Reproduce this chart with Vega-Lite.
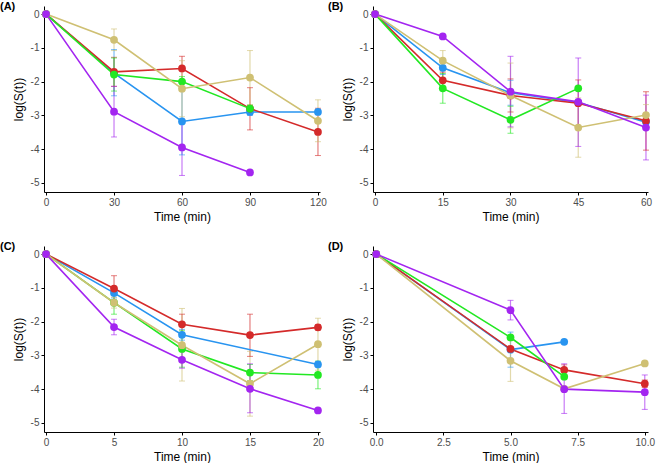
{
  "$schema": "https://vega.github.io/schema/vega-lite/v6.json",
  "padding": {"left": 0, "top": 1, "right": 5, "bottom": 1},
  "bounds": "flush",
  "columns": 2,
  "spacing": {"row": 54, "column": 53},
  "datasets": {
    "d": [
      {"p":"A","g":"S2","t":0,"v":0},
      {"p":"A","g":"S2","t":30,"v":-1.75,"lo":-2.42,"hi":-1.05},
      {"p":"A","g":"S2","t":60,"v":-3.18,"lo":-4.17,"hi":-2.19},
      {"p":"A","g":"S2","t":90,"v":-2.9,"lo":-3.0,"hi":-2.8},
      {"p":"A","g":"S2","t":120,"v":-2.9},
      {"p":"A","g":"S1","t":0,"v":0},
      {"p":"A","g":"S1","t":30,"v":-1.71,"lo":-2.14,"hi":-1.28},
      {"p":"A","g":"S1","t":60,"v":-1.61,"lo":-1.97,"hi":-1.25},
      {"p":"A","g":"S1","t":90,"v":-2.8,"lo":-3.43,"hi":-2.18},
      {"p":"A","g":"S1","t":120,"v":-3.49,"lo":-4.19,"hi":-2.79},
      {"p":"A","g":"S3","t":0,"v":0},
      {"p":"A","g":"S3","t":30,"v":-1.79,"lo":-2.28,"hi":-1.3},
      {"p":"A","g":"S3","t":60,"v":-2.0,"lo":-2.15,"hi":-1.85},
      {"p":"A","g":"S3","t":90,"v":-2.8,"lo":-2.9,"hi":-2.7},
      {"p":"A","g":"S4","t":0,"v":0},
      {"p":"A","g":"S4","t":30,"v":-0.76,"lo":-1.08,"hi":-0.44},
      {"p":"A","g":"S4","t":60,"v":-2.21,"lo":-3.04,"hi":-1.38},
      {"p":"A","g":"S4","t":90,"v":-1.88,"lo":-2.68,"hi":-1.08},
      {"p":"A","g":"S4","t":120,"v":-3.16,"lo":-3.78,"hi":-2.54},
      {"p":"A","g":"S5","t":0,"v":0},
      {"p":"A","g":"S5","t":30,"v":-2.89,"lo":-3.64,"hi":-2.14},
      {"p":"A","g":"S5","t":60,"v":-3.95,"lo":-4.78,"hi":-3.12},
      {"p":"A","g":"S5","t":90,"v":-4.69},

      {"p":"B","g":"S2","t":0,"v":0},
      {"p":"B","g":"S2","t":15,"v":-1.59,"lo":-1.79,"hi":-1.39},
      {"p":"B","g":"S2","t":30,"v":-2.33,"lo":-2.7,"hi":-1.96},
      {"p":"B","g":"S2","t":45,"v":-2.62},
      {"p":"B","g":"S2","t":60,"v":-3.2},
      {"p":"B","g":"S1","t":0,"v":0},
      {"p":"B","g":"S1","t":15,"v":-1.96,"lo":-2.2,"hi":-1.72},
      {"p":"B","g":"S1","t":30,"v":-2.41,"lo":-2.9,"hi":-1.92},
      {"p":"B","g":"S1","t":45,"v":-2.64,"lo":-3.33,"hi":-1.95},
      {"p":"B","g":"S1","t":60,"v":-3.16,"lo":-4.03,"hi":-2.3},
      {"p":"B","g":"S3","t":0,"v":0},
      {"p":"B","g":"S3","t":15,"v":-2.2,"lo":-2.64,"hi":-1.76},
      {"p":"B","g":"S3","t":30,"v":-3.13,"lo":-3.53,"hi":-2.73},
      {"p":"B","g":"S3","t":45,"v":-2.2},
      {"p":"B","g":"S4","t":0,"v":0},
      {"p":"B","g":"S4","t":15,"v":-1.38,"lo":-1.68,"hi":-1.08},
      {"p":"B","g":"S4","t":30,"v":-2.41,"lo":-3.37,"hi":-1.45},
      {"p":"B","g":"S4","t":45,"v":-3.36,"lo":-4.24,"hi":-2.48},
      {"p":"B","g":"S4","t":60,"v":-2.99,"lo":-3.3,"hi":-2.68},
      {"p":"B","g":"S5","t":0,"v":0},
      {"p":"B","g":"S5","t":15,"v":-0.66},
      {"p":"B","g":"S5","t":30,"v":-2.3,"lo":-3.34,"hi":-1.25},
      {"p":"B","g":"S5","t":45,"v":-2.6,"lo":-3.92,"hi":-1.3},
      {"p":"B","g":"S5","t":60,"v":-3.36,"lo":-4.32,"hi":-2.4},

      {"p":"C","g":"S2","t":0,"v":0},
      {"p":"C","g":"S2","t":5,"v":-1.15,"lo":-1.3,"hi":-1.0},
      {"p":"C","g":"S2","t":10,"v":-2.39,"lo":-2.55,"hi":-2.23},
      {"p":"C","g":"S2","t":20,"v":-3.27},
      {"p":"C","g":"S1","t":0,"v":0},
      {"p":"C","g":"S1","t":5,"v":-1.02,"lo":-1.4,"hi":-0.64},
      {"p":"C","g":"S1","t":10,"v":-2.08,"lo":-2.38,"hi":-1.78},
      {"p":"C","g":"S1","t":15,"v":-2.4,"lo":-3.03,"hi":-1.78},
      {"p":"C","g":"S1","t":20,"v":-2.17,"lo":-2.25,"hi":-2.09},
      {"p":"C","g":"S3","t":0,"v":0},
      {"p":"C","g":"S3","t":5,"v":-1.44,"lo":-1.78,"hi":-1.1},
      {"p":"C","g":"S3","t":10,"v":-2.81,"lo":-3.35,"hi":-2.27},
      {"p":"C","g":"S3","t":15,"v":-3.51,"lo":-3.75,"hi":-3.27},
      {"p":"C","g":"S3","t":20,"v":-3.58,"lo":-3.99,"hi":-3.17},
      {"p":"C","g":"S4","t":0,"v":0},
      {"p":"C","g":"S4","t":5,"v":-1.44,"lo":-1.6,"hi":-1.28},
      {"p":"C","g":"S4","t":10,"v":-2.7,"lo":-3.76,"hi":-1.61},
      {"p":"C","g":"S4","t":15,"v":-3.84,"lo":-4.8,"hi":-2.88},
      {"p":"C","g":"S4","t":20,"v":-2.67,"lo":-3.44,"hi":-1.9},
      {"p":"C","g":"S5","t":0,"v":0},
      {"p":"C","g":"S5","t":5,"v":-2.16,"lo":-2.39,"hi":-1.93},
      {"p":"C","g":"S5","t":10,"v":-3.13,"lo":-3.38,"hi":-2.88},
      {"p":"C","g":"S5","t":15,"v":-3.99,"lo":-4.7,"hi":-3.25},
      {"p":"C","g":"S5","t":20,"v":-4.63},

      {"p":"D","g":"S2","t":0,"v":0},
      {"p":"D","g":"S2","t":5,"v":-2.83,"lo":-3.35,"hi":-2.31},
      {"p":"D","g":"S2","t":7,"v":-2.6},
      {"p":"D","g":"S1","t":0,"v":0},
      {"p":"D","g":"S1","t":5,"v":-2.81},
      {"p":"D","g":"S1","t":7,"v":-3.43,"lo":-3.58,"hi":-3.28},
      {"p":"D","g":"S1","t":10,"v":-3.84,"lo":-3.95,"hi":-3.73},
      {"p":"D","g":"S3","t":0,"v":0},
      {"p":"D","g":"S3","t":5,"v":-2.47,"lo":-2.52,"hi":-2.42},
      {"p":"D","g":"S3","t":7,"v":-3.63},
      {"p":"D","g":"S4","t":0,"v":0},
      {"p":"D","g":"S4","t":5,"v":-3.16,"lo":-3.77,"hi":-2.55},
      {"p":"D","g":"S4","t":7,"v":-3.99},
      {"p":"D","g":"S4","t":10,"v":-3.24},
      {"p":"D","g":"S5","t":0,"v":0},
      {"p":"D","g":"S5","t":5,"v":-1.66,"lo":-1.95,"hi":-1.37},
      {"p":"D","g":"S5","t":7,"v":-4.0,"lo":-4.72,"hi":-3.25},
      {"p":"D","g":"S5","t":10,"v":-4.09,"lo":-4.6,"hi":-3.58}
    ]
  },
  "concat": [
    {
      "width": 276, "height": 186,
      "title": {"text": "(A)", "anchor": "start", "frame": "group", "dx": -44, "dy": 12, "offset": 0, "baseline": "middle", "fontSize": 11, "fontWeight": "bold"},
      "data": {"name": "d"},
      "transform": [{"filter": "datum.p == 'A'"}],
      "encoding": {
        "x": {"field": "t", "type": "quantitative", "scale": {"domain": [-0.9, 120.9], "nice": false, "zero": false}, "axis": {"values": [0, 30, 60, 90, 120], "title": "Time (min)"}},
        "color": {"field": "g", "type": "nominal", "scale": {"domain": ["S1","S2","S3","S4","S5"], "range": ["#D42A2A","#2894F0","#22E822","#CFC073","#A325F0"]}, "legend": null}
      },
      "layer": [
        {"transform": [{"filter": "isValid(datum.lo)"}], "mark": {"type": "rule", "opacity": 0.6, "strokeWidth": 1.2}, "encoding": {"y": {"field": "lo", "type": "quantitative", "scale": {"domain": [-5.27, 0.24], "nice": false, "zero": false}, "axis": {"values": [-5,-4,-3,-2,-1,0], "tickCount": 6, "title": "log(S(t))", "labelOverlap": false, "labelExpr": "datum.value == 0 ? '0' : '-' + abs(datum.value)"}}, "y2": {"field": "hi"}}},
        {"transform": [{"filter": "isValid(datum.lo)"}], "mark": {"type": "tick", "orient": "horizontal", "size": 6, "thickness": 1, "opacity": 0.6}, "encoding": {"y": {"field": "lo", "type": "quantitative", "axis": {"values": [-5,-4,-3,-2,-1,0], "tickCount": 6, "title": "log(S(t))", "labelOverlap": false, "labelExpr": "datum.value == 0 ? '0' : '-' + abs(datum.value)"}}}},
        {"transform": [{"filter": "isValid(datum.hi)"}], "mark": {"type": "tick", "orient": "horizontal", "size": 6, "thickness": 1, "opacity": 0.6}, "encoding": {"y": {"field": "hi", "type": "quantitative", "axis": {"values": [-5,-4,-3,-2,-1,0], "tickCount": 6, "title": "log(S(t))", "labelOverlap": false, "labelExpr": "datum.value == 0 ? '0' : '-' + abs(datum.value)"}}}},
        {"mark": {"type": "line", "strokeWidth": 1.6}, "encoding": {"y": {"field": "v", "type": "quantitative", "axis": {"values": [-5,-4,-3,-2,-1,0], "tickCount": 6, "title": "log(S(t))", "labelOverlap": false, "labelExpr": "datum.value == 0 ? '0' : '-' + abs(datum.value)"}}}},
        {"mark": {"type": "circle", "size": 60, "opacity": 1}, "encoding": {"y": {"field": "v", "type": "quantitative", "axis": {"values": [-5,-4,-3,-2,-1,0], "tickCount": 6, "title": "log(S(t))", "labelOverlap": false, "labelExpr": "datum.value == 0 ? '0' : '-' + abs(datum.value)"}}}}
      ]
    },
    {
      "width": 275, "height": 186,
      "title": {"text": "(B)", "anchor": "start", "frame": "group", "dx": -45, "dy": 12, "offset": 0, "baseline": "middle", "fontSize": 11, "fontWeight": "bold"},
      "data": {"name": "d"},
      "transform": [{"filter": "datum.p == 'B'"}],
      "encoding": {
        "x": {"field": "t", "type": "quantitative", "scale": {"domain": [-0.45, 60.45], "nice": false, "zero": false}, "axis": {"values": [0, 15, 30, 45, 60], "title": "Time (min)"}},
        "color": {"field": "g", "type": "nominal", "scale": {"domain": ["S1","S2","S3","S4","S5"], "range": ["#D42A2A","#2894F0","#22E822","#CFC073","#A325F0"]}, "legend": null}
      },
      "layer": [
        {"transform": [{"filter": "isValid(datum.lo)"}], "mark": {"type": "rule", "opacity": 0.6, "strokeWidth": 1.2}, "encoding": {"y": {"field": "lo", "type": "quantitative", "scale": {"domain": [-5.27, 0.24], "nice": false, "zero": false}, "axis": {"values": [-5,-4,-3,-2,-1,0], "tickCount": 6, "title": "log(S(t))", "labelOverlap": false, "labelExpr": "datum.value == 0 ? '0' : '-' + abs(datum.value)"}}, "y2": {"field": "hi"}}},
        {"transform": [{"filter": "isValid(datum.lo)"}], "mark": {"type": "tick", "orient": "horizontal", "size": 6, "thickness": 1, "opacity": 0.6}, "encoding": {"y": {"field": "lo", "type": "quantitative", "axis": {"values": [-5,-4,-3,-2,-1,0], "tickCount": 6, "title": "log(S(t))", "labelOverlap": false, "labelExpr": "datum.value == 0 ? '0' : '-' + abs(datum.value)"}}}},
        {"transform": [{"filter": "isValid(datum.hi)"}], "mark": {"type": "tick", "orient": "horizontal", "size": 6, "thickness": 1, "opacity": 0.6}, "encoding": {"y": {"field": "hi", "type": "quantitative", "axis": {"values": [-5,-4,-3,-2,-1,0], "tickCount": 6, "title": "log(S(t))", "labelOverlap": false, "labelExpr": "datum.value == 0 ? '0' : '-' + abs(datum.value)"}}}},
        {"mark": {"type": "line", "strokeWidth": 1.6}, "encoding": {"y": {"field": "v", "type": "quantitative", "axis": {"values": [-5,-4,-3,-2,-1,0], "tickCount": 6, "title": "log(S(t))", "labelOverlap": false, "labelExpr": "datum.value == 0 ? '0' : '-' + abs(datum.value)"}}}},
        {"mark": {"type": "circle", "size": 60, "opacity": 1}, "encoding": {"y": {"field": "v", "type": "quantitative", "axis": {"values": [-5,-4,-3,-2,-1,0], "tickCount": 6, "title": "log(S(t))", "labelOverlap": false, "labelExpr": "datum.value == 0 ? '0' : '-' + abs(datum.value)"}}}}
      ]
    },
    {
      "width": 276, "height": 186,
      "title": {"text": "(C)", "anchor": "start", "frame": "group", "dx": -44, "dy": 12, "offset": 0, "baseline": "middle", "fontSize": 11, "fontWeight": "bold"},
      "data": {"name": "d"},
      "transform": [{"filter": "datum.p == 'C'"}],
      "encoding": {
        "x": {"field": "t", "type": "quantitative", "scale": {"domain": [-0.15, 20.15], "nice": false, "zero": false}, "axis": {"values": [0, 5, 10, 15, 20], "title": "Time (min)"}},
        "color": {"field": "g", "type": "nominal", "scale": {"domain": ["S1","S2","S3","S4","S5"], "range": ["#D42A2A","#2894F0","#22E822","#CFC073","#A325F0"]}, "legend": null}
      },
      "layer": [
        {"transform": [{"filter": "isValid(datum.lo)"}], "mark": {"type": "rule", "opacity": 0.6, "strokeWidth": 1.2}, "encoding": {"y": {"field": "lo", "type": "quantitative", "scale": {"domain": [-5.27, 0.24], "nice": false, "zero": false}, "axis": {"values": [-5,-4,-3,-2,-1,0], "tickCount": 6, "title": "log(S(t))", "labelOverlap": false, "labelExpr": "datum.value == 0 ? '0' : '-' + abs(datum.value)"}}, "y2": {"field": "hi"}}},
        {"transform": [{"filter": "isValid(datum.lo)"}], "mark": {"type": "tick", "orient": "horizontal", "size": 6, "thickness": 1, "opacity": 0.6}, "encoding": {"y": {"field": "lo", "type": "quantitative", "axis": {"values": [-5,-4,-3,-2,-1,0], "tickCount": 6, "title": "log(S(t))", "labelOverlap": false, "labelExpr": "datum.value == 0 ? '0' : '-' + abs(datum.value)"}}}},
        {"transform": [{"filter": "isValid(datum.hi)"}], "mark": {"type": "tick", "orient": "horizontal", "size": 6, "thickness": 1, "opacity": 0.6}, "encoding": {"y": {"field": "hi", "type": "quantitative", "axis": {"values": [-5,-4,-3,-2,-1,0], "tickCount": 6, "title": "log(S(t))", "labelOverlap": false, "labelExpr": "datum.value == 0 ? '0' : '-' + abs(datum.value)"}}}},
        {"mark": {"type": "line", "strokeWidth": 1.6}, "encoding": {"y": {"field": "v", "type": "quantitative", "axis": {"values": [-5,-4,-3,-2,-1,0], "tickCount": 6, "title": "log(S(t))", "labelOverlap": false, "labelExpr": "datum.value == 0 ? '0' : '-' + abs(datum.value)"}}}},
        {"mark": {"type": "circle", "size": 60, "opacity": 1}, "encoding": {"y": {"field": "v", "type": "quantitative", "axis": {"values": [-5,-4,-3,-2,-1,0], "tickCount": 6, "title": "log(S(t))", "labelOverlap": false, "labelExpr": "datum.value == 0 ? '0' : '-' + abs(datum.value)"}}}}
      ]
    },
    {
      "width": 275, "height": 186,
      "title": {"text": "(D)", "anchor": "start", "frame": "group", "dx": -45, "dy": 12, "offset": 0, "baseline": "middle", "fontSize": 11, "fontWeight": "bold"},
      "data": {"name": "d"},
      "transform": [{"filter": "datum.p == 'D'"}],
      "encoding": {
        "x": {"field": "t", "type": "quantitative", "scale": {"domain": [-0.12, 10.12], "nice": false, "zero": false}, "axis": {"values": [0, 2.5, 5, 7.5, 10], "format": ".1f", "title": "Time (min)"}},
        "color": {"field": "g", "type": "nominal", "scale": {"domain": ["S1","S2","S3","S4","S5"], "range": ["#D42A2A","#2894F0","#22E822","#CFC073","#A325F0"]}, "legend": null}
      },
      "layer": [
        {"transform": [{"filter": "isValid(datum.lo)"}], "mark": {"type": "rule", "opacity": 0.6, "strokeWidth": 1.2}, "encoding": {"y": {"field": "lo", "type": "quantitative", "scale": {"domain": [-5.27, 0.24], "nice": false, "zero": false}, "axis": {"values": [-5,-4,-3,-2,-1,0], "tickCount": 6, "title": "log(S(t))", "labelOverlap": false, "labelExpr": "datum.value == 0 ? '0' : '-' + abs(datum.value)"}}, "y2": {"field": "hi"}}},
        {"transform": [{"filter": "isValid(datum.lo)"}], "mark": {"type": "tick", "orient": "horizontal", "size": 6, "thickness": 1, "opacity": 0.6}, "encoding": {"y": {"field": "lo", "type": "quantitative", "axis": {"values": [-5,-4,-3,-2,-1,0], "tickCount": 6, "title": "log(S(t))", "labelOverlap": false, "labelExpr": "datum.value == 0 ? '0' : '-' + abs(datum.value)"}}}},
        {"transform": [{"filter": "isValid(datum.hi)"}], "mark": {"type": "tick", "orient": "horizontal", "size": 6, "thickness": 1, "opacity": 0.6}, "encoding": {"y": {"field": "hi", "type": "quantitative", "axis": {"values": [-5,-4,-3,-2,-1,0], "tickCount": 6, "title": "log(S(t))", "labelOverlap": false, "labelExpr": "datum.value == 0 ? '0' : '-' + abs(datum.value)"}}}},
        {"mark": {"type": "line", "strokeWidth": 1.6}, "encoding": {"y": {"field": "v", "type": "quantitative", "axis": {"values": [-5,-4,-3,-2,-1,0], "tickCount": 6, "title": "log(S(t))", "labelOverlap": false, "labelExpr": "datum.value == 0 ? '0' : '-' + abs(datum.value)"}}}},
        {"mark": {"type": "circle", "size": 60, "opacity": 1}, "encoding": {"y": {"field": "v", "type": "quantitative", "axis": {"values": [-5,-4,-3,-2,-1,0], "tickCount": 6, "title": "log(S(t))", "labelOverlap": false, "labelExpr": "datum.value == 0 ? '0' : '-' + abs(datum.value)"}}}}
      ]
    }
  ],
  "config": {
    "font": "Liberation Sans",
    "view": {"stroke": null},
    "title": {"color": "black", "font": "Liberation Sans"},
    "axis": {
      "grid": false,
      "domainColor": "black",
      "domainWidth": 1,
      "tickColor": "black",
      "tickSize": 3,
      "labelColor": "#4d4d4d",
      "labelFontSize": 10,
      "labelPadding": 2,
      "labelOverlap": false,
      "labelFont": "Liberation Sans",
      "titleFont": "Liberation Sans",
      "titleFontSize": 12,
      "titleFontWeight": "normal",
      "titleColor": "black"
    },
    "axisX": {"titlePadding": 4, "labelFlush": false},
    "axisY": {"titlePadding": 5, "labelOverlap": false}
  }
}
